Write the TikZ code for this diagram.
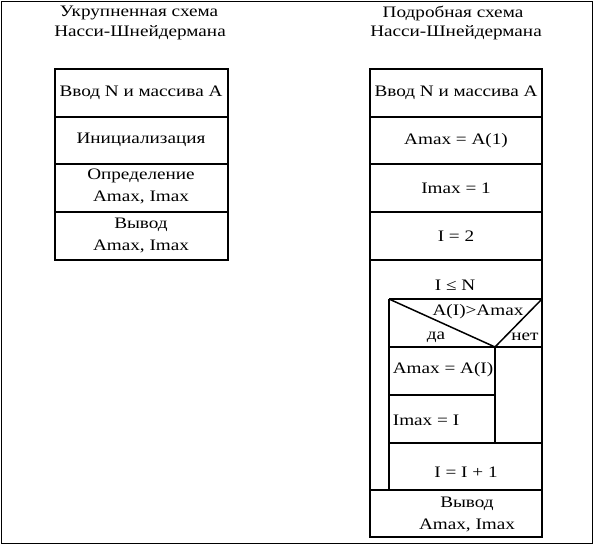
\documentclass[tikz,border=0pt]{standalone}
\usepackage{fontspec}
\usepackage{graphicx}
\setmainfont{Liberation Serif}
\newcommand\hs[1]{\scalebox{1.2}[1]{#1}}
\tikzset{
  box/.style={draw=black, line width=1.5pt},
  txt/.style={inner sep=0pt, font=\fontsize{16}{22}\selectfont, align=center},
  frame/.style={draw=black, line width=1pt}
}
\begin{document}
\begin{tikzpicture}[x=1pt,y=-1pt]
\useasboundingbox (0,0) rectangle (597,547);
\draw[frame] (1,1) rectangle (592,543);
% titles
\node[txt] (t1a) at (139,13) {\hs{Укрупненная схема}};
\node[txt] (t1b) at (140,33) {\hs{Насси-Шнейдермана}};
\node[txt] (t2a) at (453,13) {\hs{Подробная схема}};
\node[txt] (t2b) at (456,33) {\hs{Насси-Шнейдермана}};
% left scheme
\draw[box] (55,69) rectangle (228,117);
\draw[box] (55,117) rectangle (228,164);
\draw[box] (55,164) rectangle (228,212);
\draw[box] (55,212) rectangle (228,260);
\node[txt] (l1) at (141,93) {\hs{Ввод N и массива A}};
\node[txt] (l2) at (141,140) {\hs{Инициализация}};
\node[txt] (l3) at (141,186) {\hs{Определение}\\\hs{Amax, Imax}};
\node[txt] (l4) at (141,235) {\hs{Вывод}\\\hs{Amax, Imax}};
% right scheme
\draw[box] (370,69) rectangle (542,117);
\draw[box] (370,117) rectangle (542,164);
\draw[box] (370,164) rectangle (542,212);
\draw[box] (370,212) rectangle (542,260);
\draw[box] (370,260) rectangle (542,537);
\draw[box] (389,299) -- (542,299);
\draw[box] (389,299) -- (389,490);
\draw[box] (389,347) -- (542,347);
\draw[box] (389,299) -- (495,347) -- (542,299);
\draw[box] (495,347) -- (495,443);
\draw[box] (389,395) -- (495,395);
\draw[box] (389,443) -- (542,443);
\draw[box] (370,490) -- (542,490);
\node[txt] (r1) at (456,93) {\hs{Ввод N и массива A}};
\node[txt] (r2) at (456,141) {\hs{Amax = A(1)}};
\node[txt] (r3) at (456,188) {\hs{Imax = 1}};
\node[txt] (r4) at (456,236) {\hs{I = 2}};
\node[txt] (r5) at (455,285) {\hs{I ≤ N}};
\node[txt] (c) at (478,312) {\hs{A(I)>Amax}};
\node[txt] (yes) at (436,337) {\hs{да}};
\node[txt] (no) at (525,337) {\hs{нет}};
\node[txt] (r6) at (443,370) {\hs{Amax = A(I)}};
\node[txt] (r7) at (426,420) {\hs{Imax = I}};
\node[txt] (r8) at (466,472) {\hs{I = I + 1}};
\node[txt] (r9) at (467,514) {\hs{Вывод}\\\hs{Amax, Imax}};
\end{tikzpicture}
\end{document}
